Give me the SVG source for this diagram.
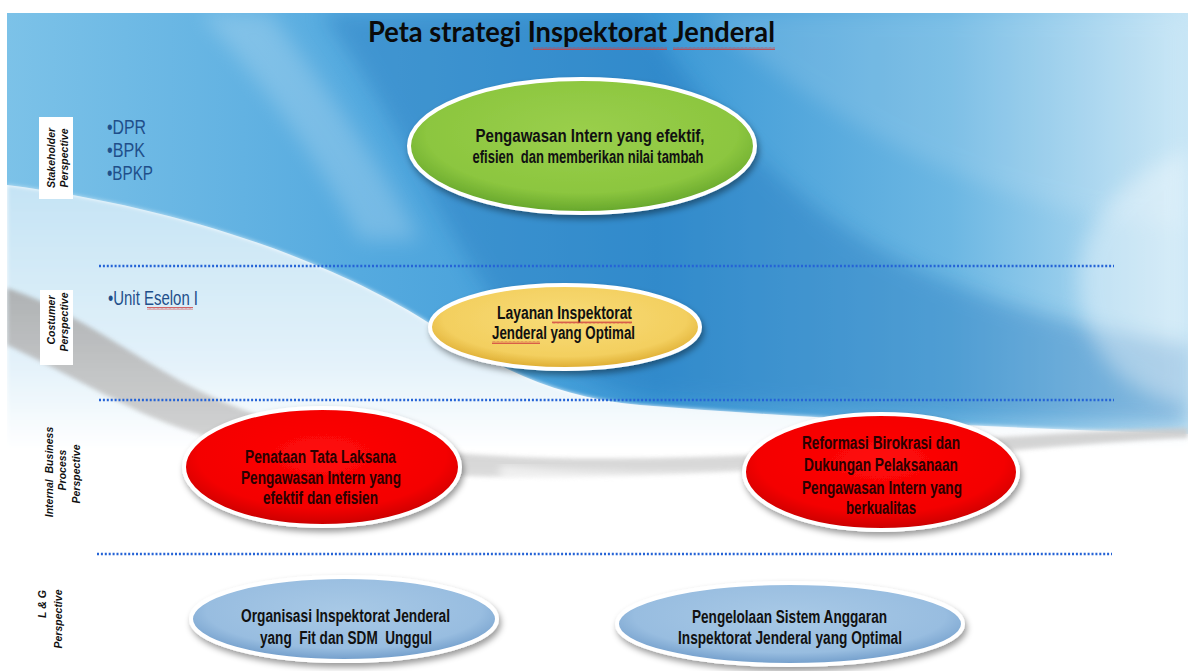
<svg xmlns="http://www.w3.org/2000/svg" width="1188" height="671" viewBox="0 0 1188 671">
<style>
.title{font-family:Lato,"Liberation Sans",sans-serif;font-weight:bold;font-size:28px;fill:#0a0a0a}
.node{font-family:"Liberation Sans",Arial,sans-serif;font-weight:bold;font-size:18px;fill:#111;text-anchor:middle;white-space:pre}
.rednode{fill:#2a0000}
.bullet{font-family:"Liberation Sans",Arial,sans-serif;font-size:20px;fill:#1f4f8a}
.persp{font-family:"Liberation Sans",Arial,sans-serif;font-weight:bold;font-style:italic;font-size:10.5px;fill:#111;text-anchor:middle;white-space:pre}
.sep{stroke:#2563d6;stroke-width:2.6;stroke-dasharray:2 1.9;fill:none}
.rim{stroke:#ffffff;stroke-width:4;filter:url(#shadow)}
</style>
<defs>
<filter id="shadow" x="-20%" y="-20%" width="140%" height="150%">
<feDropShadow dx="2" dy="4" stdDeviation="3" flood-color="#000" flood-opacity="0.4"/>
</filter>
<filter id="blur10" x="-20%" y="-20%" width="140%" height="140%"><feGaussianBlur stdDeviation="10"/></filter>
<filter id="blur4" x="-20%" y="-20%" width="140%" height="140%"><feGaussianBlur stdDeviation="4"/></filter>
<filter id="blur2" x="-20%" y="-20%" width="140%" height="140%"><feGaussianBlur stdDeviation="2"/></filter>
<linearGradient id="bgBlue" x1="0" y1="0" x2="1" y2="0">
<stop offset="0" stop-color="#7cc2e8"/>
<stop offset="0.3" stop-color="#55aadf"/>
<stop offset="0.55" stop-color="#3d99d6"/>
<stop offset="0.8" stop-color="#6cb7e3"/>
<stop offset="1" stop-color="#c4e4f5"/>
</linearGradient>
<linearGradient id="pale" gradientUnits="userSpaceOnUse" x1="0" y1="170" x2="0" y2="450">
<stop offset="0" stop-color="#c2e2f4"/>
<stop offset="0.7" stop-color="#e4f2fa"/>
<stop offset="1" stop-color="#ffffff"/>
</linearGradient>
<linearGradient id="gray" gradientUnits="userSpaceOnUse" x1="0" y1="290" x2="0" y2="480">
<stop offset="0" stop-color="#a9a9a9"/>
<stop offset="1" stop-color="#d6d6d6"/>
</linearGradient>
<radialGradient id="gGreen" cx="0.5" cy="0.4" r="0.6">
<stop offset="0" stop-color="#9acf4c"/><stop offset="0.75" stop-color="#8cc63f"/><stop offset="1" stop-color="#64a52b"/>
</radialGradient>
<radialGradient id="gYellow" cx="0.5" cy="0.4" r="0.6">
<stop offset="0" stop-color="#f8dc78"/><stop offset="0.75" stop-color="#f3cf5f"/><stop offset="1" stop-color="#dcaa2e"/>
</radialGradient>
<radialGradient id="gRed" cx="0.5" cy="0.4" r="0.6">
<stop offset="0" stop-color="#ff0a0a"/><stop offset="0.75" stop-color="#f40000"/><stop offset="1" stop-color="#c80000"/>
</radialGradient>
<radialGradient id="gBlue" cx="0.5" cy="0.4" r="0.6">
<stop offset="0" stop-color="#a8c9e6"/><stop offset="0.75" stop-color="#98bde0"/><stop offset="1" stop-color="#6f9bc9"/>
</radialGradient>
<pattern id="wavy" width="4" height="3" patternUnits="userSpaceOnUse">
<path d="M0,2.5 L1,0.5 L2,2.5 L3,0.5 L4,2.5" stroke="#d04040" stroke-width="0.8" fill="none"/>
</pattern>
<clipPath id="slide"><rect x="7" y="13" width="1181" height="658"/></clipPath>
</defs>

<rect x="0" y="0" width="1188" height="671" fill="#ffffff"/>

<g id="background" clip-path="url(#slide)">
<rect x="7" y="13" width="1181" height="658" fill="#ffffff"/>
<path d="M7,13 H1188 V434 C1000,428 800,418 640,405 C560,398 500,370 440,330 C350,270 200,210 7,185 Z" fill="url(#bgBlue)"/>
<path d="M320,13 L640,13 C700,100 780,200 900,260 C1000,310 1100,330 1188,345 L1188,425 C1000,420 800,410 660,400 C580,390 520,340 480,280 C430,200 380,90 320,13 Z" fill="#1a6fb8" opacity="0.35" filter="url(#blur10)"/>
<path d="M700,13 C780,80 880,150 1000,190 C1080,215 1140,225 1188,228 L1188,13 Z" fill="#ffffff" opacity="0.12" filter="url(#blur10)"/>
<path d="M1188,150 C1110,180 1070,240 1080,300 C1090,360 1130,395 1188,405 Z" fill="#ffffff" opacity="0.35" filter="url(#blur10)"/>
<path d="M200,13 C260,80 320,160 360,240 L420,240 C380,160 320,80 270,13 Z" fill="#ffffff" opacity="0.2" filter="url(#blur10)"/>
<path d="M7,185 C200,210 350,270 440,330 C500,370 560,398 640,405 C800,418 1000,428 1188,434 L1188,450 L7,450 Z" fill="url(#pale)" filter="url(#blur2)"/>
<path d="M7,288 C60,305 110,340 170,375 C230,410 300,435 420,450 C560,465 750,458 900,445 C1000,437 1100,430 1188,428 L1188,438 C1100,442 1000,452 900,460 C750,474 560,482 420,474 C300,464 200,440 140,412 C90,388 50,365 7,345 Z" fill="url(#gray)" opacity="0.85" filter="url(#blur2)"/>
<path d="M500,472 C650,487 800,480 900,467" stroke="#ffffff" stroke-width="14" fill="none" opacity="0.6" filter="url(#blur4)"/>
</g>

<g id="title">
<text class="title" x="368" y="42" textLength="407" lengthAdjust="spacingAndGlyphs">Peta strategi Inspektorat Jenderal</text>
<rect x="533" y="47" width="134" height="3" fill="url(#wavy)"/>
<rect x="673" y="47" width="102" height="3" fill="url(#wavy)"/>
</g>

<g id="separators">
<line class="sep" x1="99" y1="266" x2="1114" y2="266"/>
<line class="sep" x1="99" y1="400" x2="1114" y2="400"/>
<line class="sep" x1="97" y1="554" x2="1112" y2="554"/>
</g>

<g id="perspective-labels">
<g id="lbl-stakeholder">
<rect x="39" y="117" width="34" height="82" fill="#ffffff"/>
<text class="persp" transform="translate(55,158) rotate(-90)">Stakeholder</text>
<text class="persp" transform="translate(68,158) rotate(-90)">Perspective</text>
</g>
<g id="lbl-costumer">
<rect x="40" y="290" width="33" height="75" fill="#ffffff"/>
<text class="persp" transform="translate(55,320) rotate(-90)">Costumer</text>
<text class="persp" transform="translate(68,322) rotate(-90)">Perspective</text>
</g>
<g id="lbl-internal">
<text class="persp" transform="translate(53,472) rotate(-90)">Internal  Business</text>
<text class="persp" transform="translate(66,470) rotate(-90)">Process</text>
<text class="persp" transform="translate(80,474) rotate(-90)">Perspective</text>
</g>
<g id="lbl-lg">
<text class="persp" transform="translate(46,604) rotate(-90)">L &amp; G</text>
<text class="persp" transform="translate(62,619) rotate(-90)">Perspective</text>
</g>
</g>

<g id="stakeholders">
<text class="bullet" x="107" y="134" textLength="39" lengthAdjust="spacingAndGlyphs">•DPR</text>
<text class="bullet" x="107" y="157" textLength="38" lengthAdjust="spacingAndGlyphs">•BPK</text>
<text class="bullet" x="107" y="180" textLength="46" lengthAdjust="spacingAndGlyphs">•BPKP</text>
</g>
<g id="customers">
<text class="bullet" x="108" y="305" textLength="90" lengthAdjust="spacingAndGlyphs">•Unit Eselon I</text>
<rect x="147" y="307" width="46" height="3" fill="url(#wavy)"/>
</g>

<g id="node-stakeholder">
<ellipse class="rim" cx="582" cy="146" rx="173" ry="67" fill="url(#gGreen)"/>
<text class="node" x="590" y="142" textLength="229" lengthAdjust="spacingAndGlyphs">Pengawasan Intern yang efektif,</text>
<text class="node" x="588" y="163" textLength="231" lengthAdjust="spacingAndGlyphs">efisien  dan memberikan nilai tambah</text>
</g>

<g id="node-customer">
<ellipse class="rim" cx="565" cy="327" rx="135" ry="42" fill="url(#gYellow)"/>
<text class="node" x="564.5" y="319" textLength="135" lengthAdjust="spacingAndGlyphs">Layanan Inspektorat</text>
<text class="node" x="563.5" y="339" textLength="143" lengthAdjust="spacingAndGlyphs">Jenderal yang Optimal</text>
<rect x="552" y="321" width="80" height="3" fill="url(#wavy)"/>
<rect x="492" y="341" width="48" height="3" fill="url(#wavy)"/>
</g>

<g id="node-process-1">
<ellipse class="rim" cx="322" cy="467" rx="138" ry="59" fill="url(#gRed)"/>
<text class="node rednode" x="320.5" y="463" textLength="151" lengthAdjust="spacingAndGlyphs">Penataan Tata Laksana</text>
<text class="node rednode" x="321" y="484" textLength="160" lengthAdjust="spacingAndGlyphs">Pengawasan Intern yang</text>
<text class="node rednode" x="320.5" y="504" textLength="115" lengthAdjust="spacingAndGlyphs">efektif dan efisien</text>
</g>

<g id="node-process-2">
<ellipse class="rim" cx="881" cy="472" rx="137" ry="58" fill="url(#gRed)"/>
<text class="node rednode" x="881" y="449" textLength="158" lengthAdjust="spacingAndGlyphs">Reformasi Birokrasi dan</text>
<text class="node rednode" x="881" y="471" textLength="154" lengthAdjust="spacingAndGlyphs">Dukungan Pelaksanaan</text>
<text class="node rednode" x="882" y="494" textLength="160" lengthAdjust="spacingAndGlyphs">Pengawasan Intern yang</text>
<text class="node rednode" x="881" y="514" textLength="70" lengthAdjust="spacingAndGlyphs">berkualitas</text>
</g>

<g id="node-lg-1">
<ellipse class="rim" cx="344" cy="619" rx="153" ry="42" fill="url(#gBlue)"/>
<text class="node" x="345.5" y="622" textLength="209" lengthAdjust="spacingAndGlyphs">Organisasi Inspektorat Jenderal</text>
<text class="node" x="346" y="644" textLength="172" lengthAdjust="spacingAndGlyphs">yang  Fit dan SDM  Unggul</text>
</g>

<g id="node-lg-2">
<ellipse class="rim" cx="790" cy="624" rx="173" ry="41" fill="url(#gBlue)"/>
<text class="node" x="789.5" y="623" textLength="195" lengthAdjust="spacingAndGlyphs">Pengelolaan Sistem Anggaran</text>
<text class="node" x="790" y="644" textLength="224" lengthAdjust="spacingAndGlyphs">Inspektorat Jenderal yang Optimal</text>
</g>
</svg>
